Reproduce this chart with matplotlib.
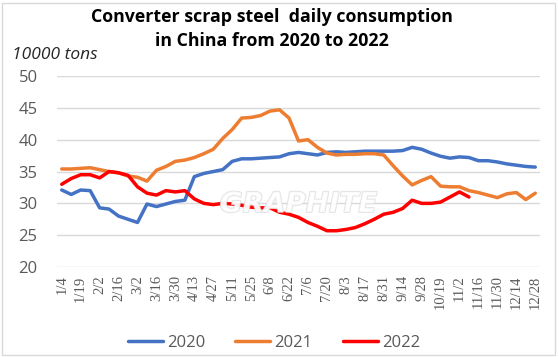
import numpy as np
import matplotlib
matplotlib.use("Agg")
import matplotlib.pyplot as plt
import matplotlib.patheffects as pe
from matplotlib.patches import Rectangle

# weekly data, 51 weeks, every other week labelled
tick_labels = ['1/4', '1/19', '2/2', '2/16', '3/2', '3/16', '3/30', '4/13', '4/27',
               '5/11', '5/25', '6/8', '6/22', '7/6', '7/20', '8/3', '8/17', '8/31',
               '9/14', '9/28', '10/19', '11/2', '11/16', '11/30', '12/14', '12/28']

y2020 = [32.1, 31.4, 32.1, 32.0, 29.3, 29.1, 28.0, 27.5, 27.0, 29.9,
         29.5, 29.9, 30.3, 30.5, 34.2, 34.7, 35.0, 35.3, 36.6, 37.0,
         37.0, 37.1, 37.2, 37.3, 37.8, 38.0, 37.8, 37.6, 38.0, 38.1,
         38.0, 38.1, 38.2, 38.2, 38.2, 38.2, 38.3, 38.8, 38.5, 37.9,
         37.4, 37.1, 37.3, 37.2, 36.7, 36.7, 36.5, 36.2, 36.0, 35.8,
         35.7]
y2021 = [35.4, 35.4, 35.5, 35.6, 35.3, 35.0, 34.8, 34.3, 34.1, 33.5,
         35.2, 35.8, 36.6, 36.8, 37.2, 37.8, 38.5, 40.2, 41.6, 43.4,
         43.5, 43.8, 44.5, 44.7, 43.4, 39.8, 40.0, 38.8, 37.9, 37.6,
         37.7, 37.7, 37.8, 37.8, 37.6, 35.9, 34.3, 32.9, 33.6, 34.2,
         32.7, 32.6, 32.6, 32.0, 31.7, 31.3, 30.9, 31.5, 31.7, 30.6,
         31.6]
y2022 = [33.0, 33.9, 34.5, 34.5, 34.0, 35.0, 34.8, 34.4, 32.6, 31.6,
         31.3, 32.0, 31.8, 32.0, 30.7, 30.0, 29.8, 30.0, 29.9, 29.7,
         29.4, 29.3, 29.3, 28.6, 28.3, 27.8, 27.0, 26.4, 25.7, 25.7,
         25.9, 26.2, 26.8, 27.5, 28.3, 28.6, 29.2, 30.5, 30.0, 30.0,
         30.2, 31.0, 31.8, 31.0]

plt.rcParams['font.family'] = ['Open Sans', 'DejaVu Sans']

fig = plt.figure(figsize=(5.59, 3.57), dpi=100)
ax = fig.add_axes([0.102, 0.252, 0.864, 0.535])

ax.plot(range(len(y2020)), y2020, color='#4472C4', lw=2.5, label='2020', solid_capstyle='round')
ax.plot(range(len(y2021)), y2021, color='#ED7D31', lw=2.5, label='2021', solid_capstyle='round')
ax.plot(range(len(y2022)), y2022, color='#FF0000', lw=2.5, label='2022', solid_capstyle='round')

ax.set_xlim(-0.5, len(y2020) - 0.5)
ax.set_ylim(20, 50)
ax.set_yticks(range(20, 51, 5))
ax.set_xticks(range(0, len(y2020), 2))
ax.set_xticklabels(tick_labels, rotation=90, family='Liberation Serif', fontsize=10.5, color='#595959')
ax.tick_params(axis='y', length=0, pad=14, labelsize=12, labelcolor='#595959')
ax.tick_params(axis='x', length=0, pad=6)
ax.grid(axis='y', color='#d9d9d9', lw=1)
ax.set_axisbelow(True)
for s in ax.spines.values():
    s.set_visible(False)

# watermark
ax.text(0.50, 0.33, 'GRAPHITE', transform=ax.transAxes, fontsize=20, fontweight='bold',
        style='italic', color='white', alpha=0.75, ha='center', va='center', family='DejaVu Sans',
        path_effects=[pe.withStroke(linewidth=1.2, foreground='#d8d8d8')])

fig.text(0.486, 0.918, 'Converter scrap steel  daily consumption\nin China from 2020 to 2022',
         ha='center', va='center', fontsize=12.8, fontweight='bold', linespacing=1.45, color='black')
fig.text(0.022, 0.845, '10000 tons', fontsize=12.5, style='italic', color='#262626', ha='left', va='center')

fig.legend(loc='center', bbox_to_anchor=(0.49, 0.04), ncol=3, frameon=False, fontsize=12,
           handlelength=2.1, handletextpad=0.25, columnspacing=1.8, labelcolor='#595959')

fig.patches.append(Rectangle((0.004, 0.006), 0.989, 0.986, transform=fig.transFigure,
                             fill=False, edgecolor='#d9d9d9', lw=1))

fig.savefig('out.png', dpi=100)
